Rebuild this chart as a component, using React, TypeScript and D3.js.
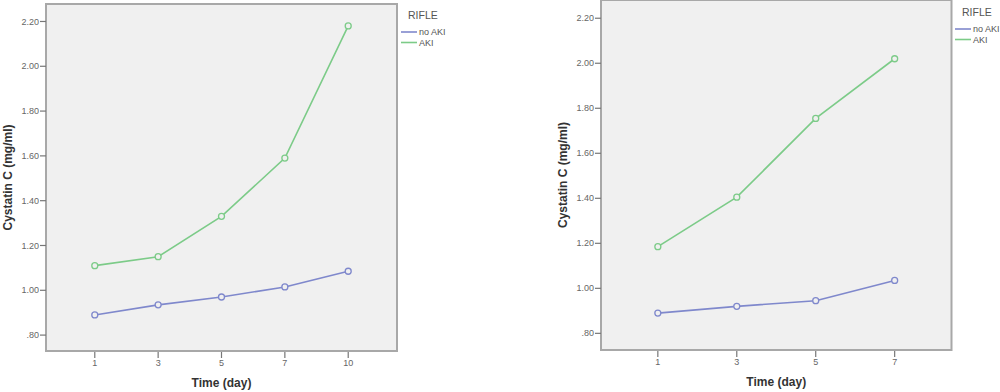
import React from "react";
import * as d3 from "d3";

const leftDays = ["1", "3", "5", "7", "10"];
const leftNoAki = [0.89, 0.935, 0.97, 1.015, 1.085];
const leftAki = [1.11, 1.15, 1.33, 1.59, 2.18];

const rightDays = ["1", "3", "5", "7"];
const rightNoAki = [0.89, 0.92, 0.945, 1.035];
const rightAki = [1.185, 1.405, 1.755, 2.02];

const yTicks = [0.8, 1.0, 1.2, 1.4, 1.6, 1.8, 2.0, 2.2];
const seriesNames = ["no AKI", "AKI"];
const seriesColors = ["#7f88cc", "#7ccb88"];
const legendTitle = "RIFLE";
const yTitle = "Cystatin C (mg/ml)";
const xTitle = "Time (day)";

function fmt(v: number) {
  const s = v.toFixed(2);
  return s.startsWith("0") ? s.slice(1) : s;
}

type PanelProps = {
  left: number; right: number; top: number; bottom: number;
  yDomain: [number, number]; padding: number;
  days: string[]; series: number[][];
  yTitleX: number; legendX: number; legendY: number;
};

function Panel(p: PanelProps) {
  const x = d3.scalePoint<string>().domain(p.days).range([p.left, p.right]).padding(p.padding);
  const y = d3.scaleLinear().domain(p.yDomain).range([p.bottom, p.top]);
  const line = d3.line<[string, number]>().x(d => x(d[0])!).y(d => y(d[1]));
  const cx = (p.left + p.right) / 2;
  const cy = (p.top + p.bottom) / 2;
  return (
    <g>
      <rect x={p.left} y={p.top} width={p.right - p.left} height={p.bottom - p.top}
        fill="#f0f0f0" stroke="#a8a8a8" strokeWidth={2} />
      {yTicks.map(t => (
        <g key={t}>
          <line x1={p.left - 6} x2={p.left} y1={y(t)} y2={y(t)} stroke="#777" strokeWidth={1.2} />
          <text x={p.left - 7} y={y(t)} dy="0.35em" textAnchor="end" fontSize={9}
            fill="#666" fontFamily="Arial, Liberation Sans, sans-serif">{fmt(t)}</text>
        </g>
      ))}
      {p.days.map(d => (
        <g key={d}>
          <line x1={x(d)} x2={x(d)} y1={p.bottom + 1} y2={p.bottom + 7} stroke="#777" strokeWidth={1.2} />
          <text x={x(d)} y={p.bottom + 15} textAnchor="middle" fontSize={9}
            fill="#666" fontFamily="Arial, Liberation Sans, sans-serif">{d}</text>
        </g>
      ))}
      <text x={cx} y={p.bottom + 36} textAnchor="middle" fontSize={12} fontWeight="bold"
        fill="#333" fontFamily="Arial, Liberation Sans, sans-serif">{xTitle}</text>
      <text transform={`translate(${p.yTitleX},${cy}) rotate(-90)`} textAnchor="middle" dy="0.35em"
        fontSize={12} fontWeight="bold" fill="#333" fontFamily="Arial, Liberation Sans, sans-serif">{yTitle}</text>
      {p.series.map((vals, i) => {
        const pts: [string, number][] = p.days.map((d, j) => [d, vals[j]]);
        return (
          <g key={i}>
            <path d={line(pts)!} fill="none" stroke={seriesColors[i]} strokeWidth={1.6} />
            {pts.map((pt, j) => (
              <circle key={j} cx={x(pt[0])} cy={y(pt[1])} r={3} fill="#f0f0f0"
                stroke={seriesColors[i]} strokeWidth={1.3} />
            ))}
          </g>
        );
      })}
      <text x={p.legendX + 7} y={p.legendY} dy="0.35em" fontSize={10.5} fill="#555"
        fontFamily="Arial, Liberation Sans, sans-serif">{legendTitle}</text>
      {seriesNames.map((n, i) => (
        <g key={n}>
          <line x1={p.legendX} x2={p.legendX + 16} y1={p.legendY + 17 + i * 10.5} y2={p.legendY + 17 + i * 10.5}
            stroke={seriesColors[i]} strokeWidth={1.6} />
          <text x={p.legendX + 18} y={p.legendY + 17 + i * 10.5} dy="0.35em" fontSize={9} fill="#555"
            fontFamily="Arial, Liberation Sans, sans-serif">{n}</text>
        </g>
      ))}
    </g>
  );
}

export default function App() {
  return (
    <svg width={1000} height={392} style={{ position: "absolute", left: 0, top: 0, background: "#fff" }}>
      <Panel left={46} right={397} top={4} bottom={351} yDomain={[0.729, 2.278]} padding={0.77}
        days={leftDays} series={[leftNoAki, leftAki]} yTitleX={8} legendX={401} legendY={15} />
      <Panel left={601} right={951.5} top={0} bottom={350} yDomain={[0.726, 2.281]} padding={0.72}
        days={rightDays} series={[rightNoAki, rightAki]} yTitleX={563} legendX={955} legendY={12} />
    </svg>
  );
}
